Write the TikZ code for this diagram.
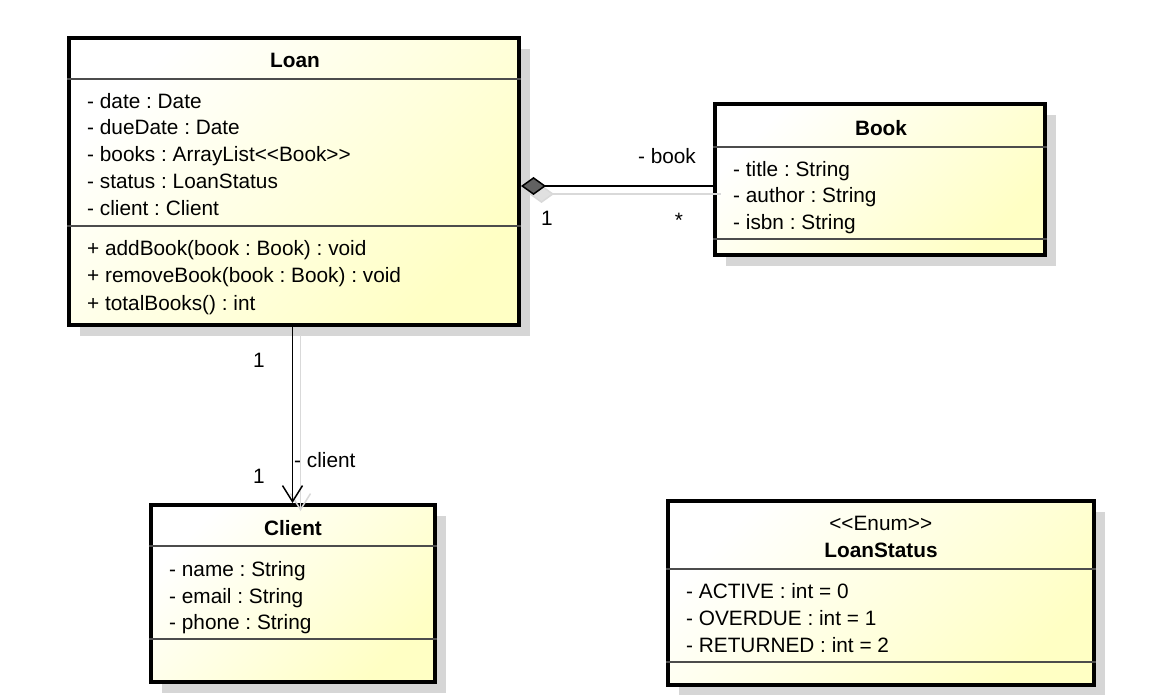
\documentclass[tikz,border=0pt]{standalone}
\usepackage{fontspec}
\setmainfont{Liberation Sans}
\usetikzlibrary{arrows.meta,shadows}

\definecolor{umlfill}{RGB}{255,255,196}
\definecolor{umlshadow}{RGB}{214,214,214}

\begin{document}
\frenchspacing
\begin{tikzpicture}[x=1pt, y=-1pt,
  every node/.style={font=\fontsize{20.8pt}{24pt}\selectfont},
  umlclass/.style={draw, line width=4pt, top color=white, bottom color=umlfill,
    shading angle=45, inner sep=0pt,
    drop shadow={shadow xshift=11pt, shadow yshift=-11pt, fill=umlshadow, opacity=1}},
  member/.style={anchor=west, inner sep=0pt, text height=15pt, text depth=0pt},
  classname/.style={inner sep=0pt, text height=15pt, text depth=0pt,
    font=\fontsize{20.8pt}{24pt}\selectfont\bfseries},
  mult/.style={inner sep=0pt, text height=15pt, text depth=0pt},
  divider/.style={line width=1.3pt, black!70},
  assoc/.style={line width=1.5pt},
  assocshadow/.style={line width=1.5pt, black!15,
    transform canvas={shift={(8pt,-8pt)}}}
]

\useasboundingbox (0,0) rectangle (1176,695);

% class boxes
\node[umlclass, minimum width=450pt, minimum height=287pt] (loan) at (294,181.5) {};
\node[umlclass, minimum width=330pt, minimum height=151pt] (book) at (880,179.5) {};
\node[umlclass, minimum width=284pt, minimum height=176.5pt] (client) at (292.5,593.25) {};
\node[umlclass, minimum width=425.5pt, minimum height=184.5pt] (status) at (880.75,592.75) {};

% compartments
\draw[divider] (loan.west |- 0,79) -- (loan.east |- 0,79);
\draw[divider] (loan.west |- 0,226) -- (loan.east |- 0,226);
\draw[divider] (book.west |- 0,147) -- (book.east |- 0,147);
\draw[divider] (book.west |- 0,239) -- (book.east |- 0,239);
\draw[divider] (client.west |- 0,546) -- (client.east |- 0,546);
\draw[divider] (client.west |- 0,639) -- (client.east |- 0,639);
\draw[divider] (status.west |- 0,569) -- (status.east |- 0,569);
\draw[divider] (status.west |- 0,662) -- (status.east |- 0,662);

% Loan
\node[classname] (loan-name) at (295,60) {Loan};
\node[member] (loan-date) at (87,100.7) {- date : Date};
\node[member] (loan-due) at (87,127.5) {- dueDate : Date};
\node[member] (loan-books) at (87,154.5) {- books : ArrayList<\kern0pt<Book>\kern0pt>};
\node[member] (loan-status) at (87,181) {- status : LoanStatus};
\node[member] (loan-client) at (87,208) {- client : Client};
\node[member] (loan-add) at (87,248) {+ addBook(book : Book) : void};
\node[member] (loan-remove) at (87,275.5) {+ removeBook(book : Book) : void};
\node[member] (loan-total) at (87,303) {+ totalBooks() : int};

% Book
\node[classname] (book-name) at (881,128) {Book};
\node[member] (book-title) at (733,169) {- title : String};
\node[member] (book-author) at (733,195.5) {- author : String};
\node[member] (book-isbn) at (733,222) {- isbn : String};

% Client
\node[classname] (client-name) at (293,528) {Client};
\node[member] (client-name-attr) at (169,569) {- name : String};
\node[member] (client-email) at (169,596) {- email : String};
\node[member] (client-phone) at (169,622) {- phone : String};

% LoanStatus
\node[mult] (status-stereo) at (880.75,523) {<\kern0pt<Enum>\kern0pt>};
\node[classname] (status-name) at (881,550) {LoanStatus};
\node[member] (status-active) at (686,591) {- ACTIVE : int = 0};
\node[member] (status-overdue) at (686,618) {- OVERDUE : int = 1};
\node[member] (status-returned) at (686,645) {- RETURNED : int = 2};

% Loan <>-- Book
\coordinate (agg-start) at (loan.east |- 0,186);
\coordinate (agg-end) at (book.west |- 0,186);
\draw[assocshadow, {Diamond[length=25pt, width=18pt, fill=black!12]}-] (agg-start) -- (agg-end);
\draw[assoc, {Diamond[length=25pt, width=18pt, fill=black!62]}-] (agg-start) -- (agg-end);
\node[mult] (agg-role) at (667,156) {- book};
\node[mult] (agg-one) at (547,218) {1};
\node[mult] (agg-many) at (679,220) {*};

% Loan --> Client
\coordinate (dep-start) at (loan.south -| client.north);
\draw[assocshadow, -{Straight Barb[length=16pt, width=20pt]}] (dep-start) -- (client.north);
\draw[assoc, -{Straight Barb[length=16pt, width=20pt]}] (dep-start) -- (client.north);
\node[mult] (dep-one-top) at (259,360) {1};
\node[mult] (dep-one-bottom) at (259,476) {1};
\node[member] (dep-role) at (294,460) {- client};

\end{tikzpicture}
\end{document}
